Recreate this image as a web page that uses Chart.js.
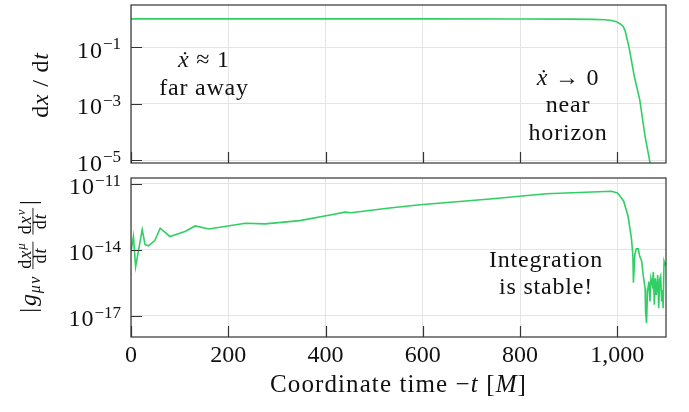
<!DOCTYPE html>
<html>
<head>
<meta charset="utf-8">
<script src="https://cdn.jsdelivr.net/npm/chart.js@4.4.1/dist/chart.umd.min.js"></script>
<style>
  html, body { margin: 0; padding: 0; background: #fff; }
  #wrap { position: relative; width: 689px; height: 412px; }
  canvas { position: absolute; left: 0; }
  #top-chart { top: 0; }
  #bottom-chart { top: 172px; }
</style>
</head>
<body>
<div id="wrap">
  <canvas id="top-chart" width="689" height="172"></canvas>
  <canvas id="bottom-chart" width="689" height="240"></canvas>
</div>
<script>
// --- data ---
const timeTicks = [0, 200, 400, 600, 800, 1000];
const velTicks = [1e-5, 1e-3, 1e-1];
const normTicks = [1e-17, 1e-14, 1e-11];

// dx/dt
const velTime = [0, 200, 400, 600, 800, 900, 950, 975, 988, 998, 1006, 1012, 1016, 1019, 1022, 1025, 1035, 1046, 1057, 1068];
const velValues = [1.0, 1.0, 1.0, 1.0, 0.99, 0.98, 0.96, 0.93, 0.88, 0.8, 0.66, 0.54, 0.38, 0.23, 0.14, 0.08, 0.009, 1.4e-3, 7e-5, 7e-6];

// |g dx dx|
const normTime = [0, 5, 9.5, 15, 23, 29, 36, 49, 60, 80, 111, 132, 160, 235, 276, 347, 415, 440, 452, 532, 594, 738, 854, 988,
  1000, 1005, 1013, 1022, 1029, 1032, 1033, 1036, 1039, 1043, 1046, 1050, 1053, 1057, 1058, 1060, 1062, 1065, 1067, 1069,
  1072, 1074, 1076, 1078, 1080, 1083, 1085, 1087, 1089, 1091, 1093, 1094, 1096, 1098, 1100];
const normValues = [8.3e-15, 4.0e-14, 1.7e-15, 8.3e-15, 8.1e-14, 1.7e-14, 1.5e-14, 2.6e-14, 9.5e-14, 4.0e-14, 6.8e-14, 1.2e-13,
  8.7e-14, 1.6e-13, 1.5e-13, 2.1e-13, 4.0e-13, 5.1e-13, 4.8e-13, 7.9e-13, 1.1e-12, 2.0e-12, 3.5e-12, 4.5e-12,
  3.8e-12, 2.8e-12, 1.6e-12, 3.3e-13, 3.2e-14, 5.0e-15, 3.2e-16, 6.3e-15, 1.1e-14, 1.1e-14, 5.0e-15, 3.0e-15, 7.2e-16,
  1.8e-16, 1.6e-17, 4.7e-18, 1.3e-16, 3.6e-16, 4.5e-17, 5.1e-16, 2.5e-16, 1.0e-15, 3.2e-17, 5.1e-16, 8.9e-17, 7.2e-16,
  2.2e-17, 4.4e-16, 6.3e-16, 4.5e-17, 1.5e-16, 2.2e-17, 3.0e-15, 2.1e-15, 2.5e-15];

const LINE_COLOR = '#2fcf63';
const GRID_COLOR = '#e4e4e4';
const AXIS_COLOR = '#333';
const SERIF = '"Liberation Serif", "DejaVu Serif", serif';

function fnt(size, italic) {
    return (italic ? 'italic ' : '') + size + 'px ' + SERIF;
}

function setText(ctx, it) {
    ctx.font = fnt(it.size, it.it);
    ctx.letterSpacing = (it.ls || 0) + 'px';
}

// small "math" text layout: items are text runs, gaps or fractions
function measure(ctx, items) {
    let w = 0;
    items.forEach(it => {
        if (it.frac) {
            it.w = Math.max(measure(ctx, it.num), measure(ctx, it.den)) + 3;
        } else if (it.gap) {
            it.w = it.gap;
        } else {
            setText(ctx, it);
            it.w = ctx.measureText(it.t).width;
        }
        w += it.w;
    });
    return w;
}

function drawItems(ctx, items, x, y) {
    measure(ctx, items);
    items.forEach(it => {
        if (it.frac) {
            const nw = measure(ctx, it.num);
            const dw = measure(ctx, it.den);
            const barY = y - 3;
            drawItems(ctx, it.num, x + (it.w - nw) / 2, barY - 2.5);
            drawItems(ctx, it.den, x + (it.w - dw) / 2, barY + 13);
            measure(ctx, [it]);
            ctx.fillRect(x + 1, barY - 0.5, it.w - 2, 0.9);
        } else if (!it.gap) {
            setText(ctx, it);
            ctx.fillText(it.t, x, y - (it.dy || 0));
        }
        x += it.w;
    });
}

function drawCentered(ctx, items, cx, y) {
    const w = measure(ctx, items);
    drawItems(ctx, items, cx - w / 2, y);
}

function drawRotated(ctx, items, bx, cy) {
    ctx.save();
    ctx.translate(bx, cy);
    ctx.rotate(-Math.PI / 2);
    drawCentered(ctx, items, 0, 0);
    ctx.restore();
}

// pgfplots style box, inward ticks and 10^n labels
const framePlugin = {
    id: 'frame',
    afterDatasetsDraw(chart) {
        const { ctx, chartArea: a, scales } = chart;
        ctx.save();
        ctx.strokeStyle = AXIS_COLOR;
        ctx.lineWidth = 1.2;
        ctx.strokeRect(a.left, a.top, a.right - a.left, a.bottom - a.top);
        ctx.beginPath();
        scales.y.ticks.forEach(t => {
            const py = Math.round(scales.y.getPixelForValue(t.value)) + 0.5;
            ctx.moveTo(a.left, py);
            ctx.lineTo(a.left + 11, py);
        });
        scales.x.ticks.forEach(t => {
            const px = Math.round(scales.x.getPixelForValue(t.value)) + 0.5;
            ctx.moveTo(px, a.bottom);
            ctx.lineTo(px, a.bottom - 11);
        });
        ctx.stroke();

        // y tick labels as 10^n
        ctx.fillStyle = '#111';
        ctx.textBaseline = 'alphabetic';
        ctx.textAlign = 'left';
        scales.y.ticks.forEach(t => {
            const py = scales.y.getPixelForValue(t.value);
            const exp = '\u2212' + Math.abs(Math.round(Math.log10(t.value)));
            ctx.font = fnt(17, false);
            const ew = ctx.measureText(exp).width;
            ctx.font = fnt(24, false);
            ctx.letterSpacing = '1px';
            const bw = ctx.measureText('10').width;
            const right = a.left - 10;
            ctx.fillText('10', right - ew - bw, py + 10.5);
            ctx.letterSpacing = '0px';
            ctx.font = fnt(17, false);
            ctx.fillText(exp, right - ew, py + 2);
        });
        ctx.restore();
    }
};

const notesPlugin = {
    id: 'notes',
    afterDraw(chart, args, opts) {
        const ctx = chart.ctx;
        ctx.save();
        ctx.fillStyle = '#111';
        ctx.textAlign = 'left';
        ctx.textBaseline = 'alphabetic';
        (opts.lines || []).forEach(l => drawCentered(ctx, l.items, l.x, l.y));
        (opts.rotated || []).forEach(l => drawRotated(ctx, l.items, l.x, l.y));
        ctx.restore();
    }
};

function logAxis(min, max, tickValues) {
    return {
        type: 'logarithmic',
        min: min,
        max: max,
        afterBuildTicks: s => { s.ticks = tickValues.map(v => ({ value: v })); },
        afterFit: s => { s.width = 131; },
        ticks: { display: false },
        grid: { color: GRID_COLOR, drawTicks: false },
        border: { display: false }
    };
}

function timeAxis(showLabels) {
    return {
        type: 'linear',
        min: 0,
        max: 1100,
        afterBuildTicks: s => { s.ticks = timeTicks.map(v => ({ value: v })); },
        afterFit: s => { s.height = showLabels ? 75 : 0; },
        ticks: {
            display: showLabels,
            maxRotation: 0,
            padding: 4,
            color: '#111',
            font: { family: SERIF, size: 24 }
        },
        grid: { color: GRID_COLOR, drawTicks: false },
        border: { display: false }
    };
}

function lineDataset(xs, ys) {
    return {
        data: xs.map((x, i) => ({ x: x, y: ys[i] })),
        borderColor: LINE_COLOR,
        borderWidth: 1.6,
        pointRadius: 0,
        tension: 0,
        fill: false
    };
}

// text run helper: text, size, italic, raise, letter spacing
const T = (t, size, it, dy, ls) => ({ t: t, size: size, it: !!it, dy: dy || 0, ls: ls === undefined ? 0.8 : ls });

// top panel: dx/dt
new Chart(document.getElementById('top-chart'), {
    type: 'line',
    data: { datasets: [lineDataset(velTime, velValues)] },
    plugins: [framePlugin, notesPlugin],
    options: {
        responsive: false,
        animation: false,
        layout: { padding: { top: 5, right: 23, bottom: 9, left: 0 } },
        scales: {
            x: timeAxis(false),
            y: logAxis(8.1e-6, 3.1, velTicks)
        },
        plugins: {
            legend: { display: false },
            tooltip: { enabled: false },
            notes: {
                lines: [
                    { x: 204, y: 67, items: [T('\u1E8B', 24, true), T(' \u2248 1', 24)] },
                    { x: 204, y: 95, items: [T('far away', 24)] },
                    { x: 568, y: 85, items: [T('\u1E8B', 24, true), T(' \u2192 0', 24)] },
                    { x: 568, y: 112, items: [T('near', 24)] },
                    { x: 568, y: 140, items: [T('horizon', 24)] }
                ],
                rotated: [
                    { x: 48, y: 85, items: [T('d', 24), T('x', 24, true), T(' / ', 24), T('d', 24), T('t', 24, true)] }
                ]
            }
        }
    }
});

// bottom panel: |g dx dx|
new Chart(document.getElementById('bottom-chart'), {
    type: 'line',
    data: { datasets: [lineDataset(normTime, normValues)] },
    plugins: [framePlugin, notesPlugin],
    options: {
        responsive: false,
        animation: false,
        layout: { padding: { top: 6, right: 23, bottom: 0, left: 0 } },
        scales: {
            x: timeAxis(true),
            y: logAxis(1.1e-18, 1.8e-11, normTicks)
        },
        plugins: {
            legend: { display: false },
            tooltip: { enabled: false },
            notes: {
                lines: [
                    { x: 546, y: 95, items: [T('Integration', 24)] },
                    { x: 546, y: 122, items: [T('is stable!', 24)] },
                    { x: 398.5, y: 220, items: [T('Coordinate time \u2212', 25, false, 0, 1.1), T('t', 25, true, 0, 1.1), T(' [', 25, false, 0, 1.1), T('M', 25, true, 0, 1.1), T(']', 25, false, 0, 1.1)] }
                ],
                rotated: [
                    { x: 36, y: 84, items: [
                        T('|', 24), { gap: 1 }, T('g', 24, true), T('\u03BC\u03BD', 16, true, -4, 1.5), { gap: 5 },
                        { frac: true, num: [T('d', 18, false, 0, 1), T('x', 18, true, 0, 1), T('\u03BC', 13, true, 6, 1)], den: [T('d', 18, false, 0, 1), T('t', 18, true, 0, 1)] },
                        { gap: 5 },
                        { frac: true, num: [T('d', 18, false, 0, 1), T('x', 18, true, 0, 1), T('\u03BD', 13, true, 6, 1)], den: [T('d', 18, false, 0, 1), T('t', 18, true, 0, 1)] },
                        { gap: 2 },
                        T('|', 24)
                    ] }
                ]
            }
        }
    }
});
</script>
</body>
</html>
